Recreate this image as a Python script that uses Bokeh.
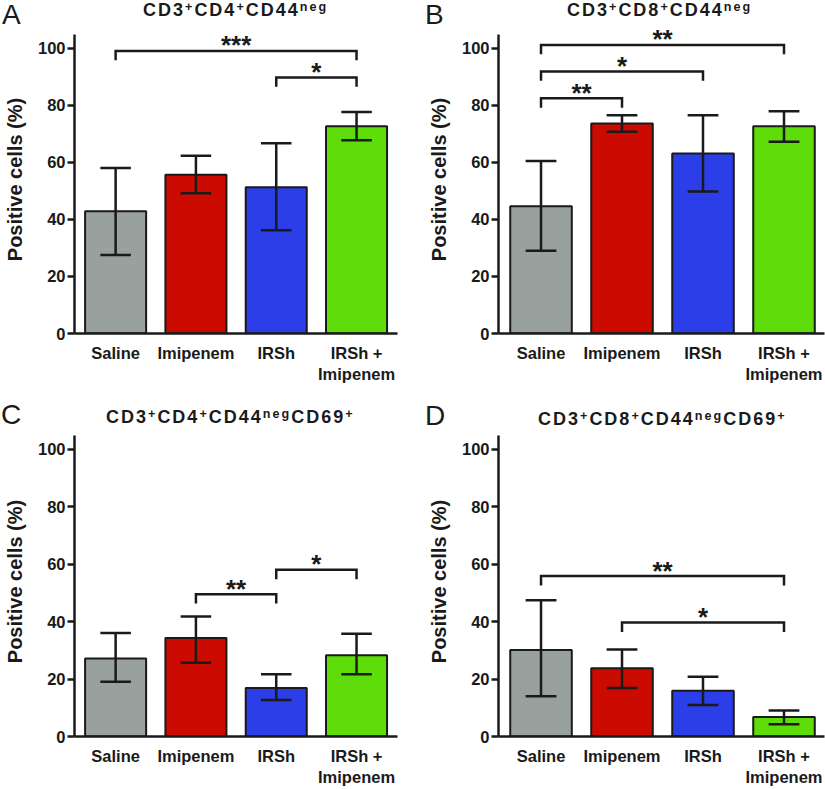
from bokeh.plotting import figure
from bokeh.layouts import row, column
from bokeh.models import Range1d, FixedTicker, Div
from bokeh.embed import file_html
from bokeh.resources import INLINE
from bokeh.core.properties import value

# ---------------- data ----------------
groups = ["Saline", "Imipenem", "IRSh", "IRSh +\nImipenem"]
group_pos = [1, 2, 3, 4]
colors = ["#98a19d", "#cc0b00", "#2b3ee8", "#5edd0a"]
y_ticks = [0, 20, 40, 60, 80, 100]

# Panel A  CD3+CD4+CD44neg
a_mean = [42.9, 55.7, 51.3, 72.7]
a_lo = [27.5, 49.2, 36.2, 67.8]
a_hi = [58.0, 62.3, 66.7, 77.7]
a_br_from = [1, 3]
a_br_to = [4, 4]
a_br_y = [99.1, 89.8]
a_br_lab = ["***", "*"]

# Panel B  CD3+CD8+CD44neg
b_mean = [44.6, 73.6, 63.1, 72.7]
b_lo = [29.0, 70.7, 49.8, 67.2]
b_hi = [60.5, 76.5, 76.5, 77.9]
b_br_from = [1, 1, 1]
b_br_to = [4, 3, 2]
b_br_y = [101.2, 91.9, 82.5]
b_br_lab = ["**", "*", "**"]

# Panel C  CD3+CD4+CD44negCD69+
c_mean = [27.2, 34.3, 16.9, 28.3]
c_lo = [19.1, 25.7, 12.7, 21.7]
c_hi = [36.1, 41.8, 21.7, 35.8]
c_br_from = [2, 3]
c_br_to = [3, 4]
c_br_y = [49.6, 58.1]
c_br_lab = ["**", "*"]

# Panel D  CD3+CD8+CD44negCD69+
d_mean = [30.1, 23.8, 15.9, 6.8]
d_lo = [14.0, 16.9, 11.0, 4.3]
d_hi = [47.5, 30.3, 20.8, 9.1]
d_br_from = [1, 2]
d_br_to = [4, 4]
d_br_y = [55.9, 39.7]
d_br_lab = ["**", "*"]

Y_AXIS_TOP = 105
Y_VIEW_TOP = 108

FONT = "Liberation Sans"
INK = "#1a1a1a"
SUP = ('<span style="font-size:0.7em;position:relative;top:-0.42em;'
       'line-height:0;">{}</span>')


def title_html(parts):
    out = ""
    for txt, is_sup in parts:
        out += SUP.format(txt) if is_sup else txt
    return out


def header(letter, parts, width, height, title_left,
           letter_left, letter_top, title_top):
    html = (
        f'<div style="position:relative;width:{width}px;height:{height}px;'
        f'font-family:\'{FONT}\';color:{INK};">'
        f'<span style="position:absolute;left:{letter_left}px;top:{letter_top}px;'
        f'font-size:28px;line-height:28px;">{letter}</span>'
        f'<div style="position:absolute;left:{title_left}px;'
        f'top:{title_top}px;text-align:left;font-weight:bold;font-size:18px;'
        f'line-height:18px;letter-spacing:2px;white-space:nowrap;">'
        f'{title_html(parts)}</div></div>'
    )
    return Div(text=html, width=width, height=height, margin=(0, 0, 0, 0))


def panel(mean, lo, hi, br_from, br_to, br_y, br_lab,
          width, height, b_left, b_right, b_top, b_bottom, x_start, x_end):
    p = figure(width=width, height=height, output_backend="svg",
               toolbar_location=None, tools="",
               x_range=Range1d(x_start, x_end),
               y_range=Range1d(0, Y_VIEW_TOP),
               min_border_left=b_left, min_border_right=b_right,
               min_border_top=b_top, min_border_bottom=b_bottom,
               margin=(0, 0, 0, 0))
    p.outline_line_color = None
    p.grid.visible = False
    p.background_fill_color = "white"
    p.border_fill_color = "white"

    # bars
    p.vbar(x=group_pos, top=mean, width=0.76, bottom=0,
           fill_color=colors, line_color=INK, line_width=2)
    # error bars
    cap = 0.19
    p.segment(x0=group_pos, y0=lo, x1=group_pos, y1=hi,
              line_color=INK, line_width=2.5)
    p.segment(x0=[g - cap for g in group_pos], y0=hi,
              x1=[g + cap for g in group_pos], y1=hi,
              line_color=INK, line_width=2.5)
    p.segment(x0=[g - cap for g in group_pos], y0=lo,
              x1=[g + cap for g in group_pos], y1=lo,
              line_color=INK, line_width=2.5)

    # significance brackets
    drop = 3.3
    xs = [[a, a, b, b] for a, b in zip(br_from, br_to)]
    ys = [[y - drop, y, y, y - drop] for y in br_y]
    p.multi_line(xs=xs, ys=ys, line_color=INK, line_width=2.5,
                 line_join="miter", line_cap="butt")
    p.text(x=[(a + b) / 2 for a, b in zip(br_from, br_to)],
           y=[y + 1.9 for y in br_y], text=br_lab,
           text_align="center", text_baseline="alphabetic",
           text_font=value(FONT), text_font_style="bold",
           text_font_size="26px", text_color=INK)

    # axes
    p.xaxis.ticker = FixedTicker(ticks=group_pos)
    p.xaxis.major_label_overrides = {g: lab for g, lab in zip(group_pos, groups)}
    p.xaxis.major_tick_line_color = None
    p.xaxis.minor_tick_line_color = None
    p.xaxis.major_tick_out = 0
    p.xaxis.major_label_standoff = 10
    p.yaxis.ticker = FixedTicker(ticks=y_ticks)
    p.yaxis.bounds = (0, Y_AXIS_TOP)
    p.yaxis.minor_tick_line_color = None
    p.yaxis.major_tick_out = 7
    p.yaxis.major_tick_in = 0
    p.yaxis.major_tick_line_width = 2.5
    p.yaxis.major_tick_line_color = INK
    p.yaxis.major_label_standoff = 2
    p.yaxis.axis_label = "Positive cells (%)"
    p.yaxis.axis_label_standoff = 9
    p.yaxis.axis_label_text_font = FONT
    p.yaxis.axis_label_text_font_style = "bold"
    p.yaxis.axis_label_text_font_size = "20px"
    p.yaxis.axis_label_text_color = INK
    for ax in (p.xaxis, p.yaxis):
        ax.axis_line_width = 2.5
        ax.axis_line_color = INK
        ax.major_label_text_font = FONT
        ax.major_label_text_font_style = "bold"
        ax.major_label_text_font_size = "16.5px"
        ax.major_label_text_color = INK
    return p


t_a = [("CD3", False), ("+", True), ("CD4", False), ("+", True),
       ("CD44", False), ("neg", True)]
t_b = [("CD3", False), ("+", True), ("CD8", False), ("+", True),
       ("CD44", False), ("neg", True)]
t_c = t_a + [("CD69", False), ("+", True)]
t_d = t_b + [("CD69", False), ("+", True)]

WA, WB = 412, 413
hA = header("A", t_a, WA, 25, 143, 2, 1, 1)
hB = header("B", t_b, WB, 25, 155, 13, 1, 1)
hC = header("C", t_c, WA, 26, 106, 1, 1, 8)
hD = header("D", t_d, WB, 26, 126, 13, 2, 10)

pA = panel(a_mean, a_lo, a_hi, a_br_from, a_br_to, a_br_y, a_br_lab,
           WA, 375, 71, 15, 0, 67, 0.488, 4.51)
pB = panel(b_mean, b_lo, b_hi, b_br_from, b_br_to, b_br_y, b_br_lab,
           WB, 375, 86, 1, 0, 67, 0.475, 4.5)
pC = panel(c_mean, c_lo, c_hi, c_br_from, c_br_to, c_br_y, c_br_lab,
           WA, 363, 71, 15, 0, 52, 0.488, 4.51)
pD = panel(d_mean, d_lo, d_hi, d_br_from, d_br_to, d_br_y, d_br_lab,
           WB, 363, 86, 1, 0, 52, 0.475, 4.5)

layout = column(
    row(column(hA, pA), column(hB, pB)),
    row(column(hC, pC), column(hD, pD)),
)
open("out.html", "w").write(file_html(layout, INLINE))
